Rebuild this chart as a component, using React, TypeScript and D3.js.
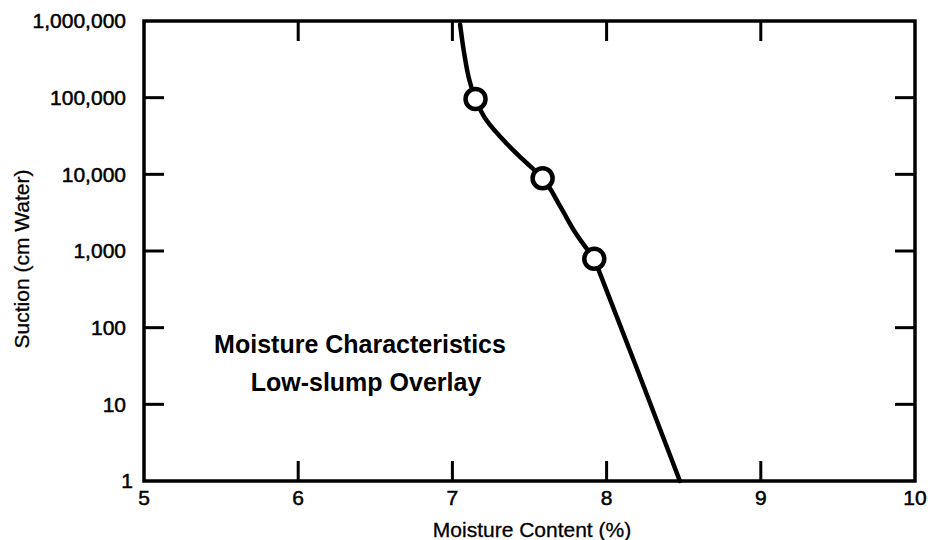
import React from "react";
import * as d3 from "d3";

// measured circles (moisture %, suction cm water)
const pointMoisture = [7.15, 7.585, 7.92];
const pointSuction = [96000, 8900, 790];

// hand-drawn fitted curve (top to bottom)
// upper part: smooth curve down to the last circle
const upperMoisture = [7.05, 7.08, 7.11, 7.15, 7.22, 7.35, 7.46, 7.585, 7.7, 7.8, 7.92];
const upperSuction = [900000, 342000, 170000, 96000, 51000, 25400, 15400, 8900, 3790, 1700, 790];
// lower part: near-straight run from the last circle to the axis
const lowerMoisture = [7.92, 8.19, 8.475];
const lowerSuction = [790, 32, 1];

const xTicks = [5, 6, 7, 8, 9, 10];
const yTicks = [1, 10, 100, 1000, 10000, 100000, 1000000];

const W = 928, H = 540;
const left = 144, right = 915, top = 21, bottom = 481;
const font = "'Liberation Sans', Arial, Helvetica, sans-serif";

export default function App() {
  const x = d3.scaleLinear().domain([5, 10]).range([left, right]);
  const y = d3.scaleLog().domain([1, 1000000]).range([bottom, top]);
  const fmt = d3.format(",");

  const path = (mx: number[], sy: number[], curve: d3.CurveFactory) =>
    d3.line<number>()
      .x(i => x(mx[i]))
      .y(i => y(sy[i]))
      .curve(curve)(d3.range(mx.length)) || "";

  const upperPath = path(upperMoisture, upperSuction, d3.curveMonotoneY);
  const lowerPath = path(lowerMoisture, lowerSuction, d3.curveBasis);

  const tickLen = 20;
  const innerX = xTicks.slice(1, -1);
  const innerY = yTicks.slice(1, -1);

  return (
    <svg width={W} height={H} style={{ position: "absolute", left: 0, top: 0, background: "#fff" }}
      fontFamily={font}>
      {/* frame */}
      <rect x={left} y={top} width={right - left} height={bottom - top}
        fill="none" stroke="#000" strokeWidth={3.5} />
      {/* ticks inside the frame */}
      {innerX.map(t => (
        <g key={"xt" + t} stroke="#000" strokeWidth={3}>
          <line x1={x(t)} x2={x(t)} y1={bottom} y2={bottom - tickLen} />
          <line x1={x(t)} x2={x(t)} y1={top} y2={top + tickLen} />
        </g>
      ))}
      {innerY.map(t => (
        <g key={"yt" + t} stroke="#000" strokeWidth={3}>
          <line x1={left} x2={left + tickLen} y1={y(t)} y2={y(t)} />
          <line x1={right} x2={right - tickLen} y1={y(t)} y2={y(t)} />
        </g>
      ))}
      {/* tick labels */}
      {xTicks.map(t => (
        <text key={"xl" + t} x={x(t)} y={505} textAnchor="middle" fontSize={21}
          fill="#000" stroke="#000" strokeWidth={0.5}>{t}</text>
      ))}
      {yTicks.map(t => (
        <text key={"yl" + t} x={t === 1 ? 133 : 126} y={y(t)} dy="0.35em" textAnchor="end" fontSize={21}
          fill="#000" stroke="#000" strokeWidth={0.5}>{fmt(t)}</text>
      ))}
      {/* axis titles */}
      <text x={532} y={537} textAnchor="middle" fontSize={21} fill="#000"
        stroke="#000" strokeWidth={0.3}>Moisture Content (%)</text>
      <text transform="translate(29,259) rotate(-90)" textAnchor="middle" fontSize={21} fill="#000"
        stroke="#000" strokeWidth={0.3}>
        Suction (cm Water)
      </text>
      {/* curve and points */}
      <g fill="none" stroke="#000" strokeWidth={4.5} strokeLinecap="round">
        <path d={upperPath} />
        <path d={lowerPath} />
      </g>
      {pointMoisture.map((m, i) => (
        <circle key={"p" + i} cx={x(m)} cy={y(pointSuction[i])} r={10}
          fill="#fff" stroke="#000" strokeWidth={4.5} />
      ))}
      {/* annotation */}
      <text x={360} y={353} textAnchor="middle" fontSize={25} fontWeight="bold" fill="#000">
        Moisture Characteristics
      </text>
      <text x={366} y={391} textAnchor="middle" fontSize={25} fontWeight="bold" fill="#000">
        Low-slump Overlay
      </text>
    </svg>
  );
}
